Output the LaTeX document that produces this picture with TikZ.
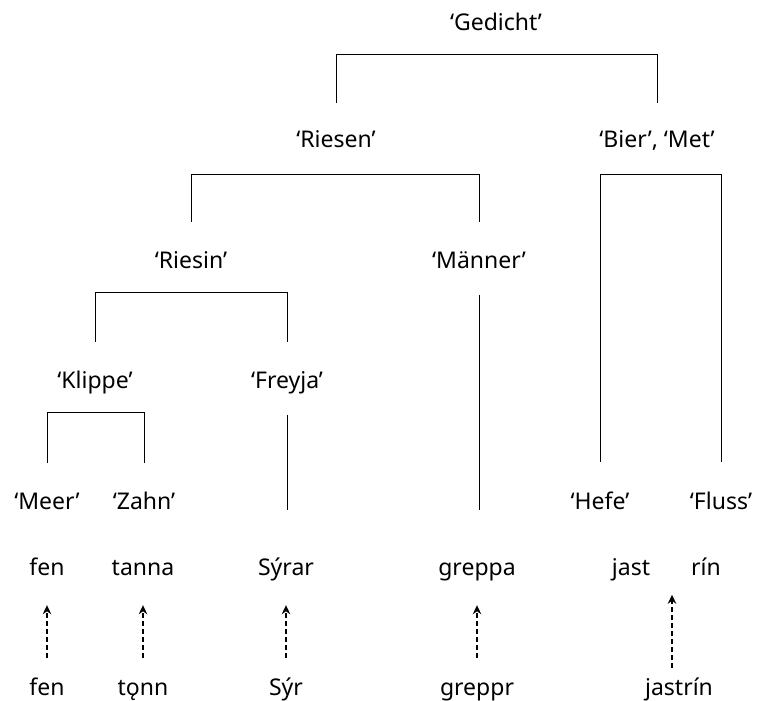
\documentclass[tikz,border=0pt]{standalone}
\usepackage{fontspec}
\setmainfont{Noto Sans}
\usepackage{tikz}
\usetikzlibrary{arrows.meta,positioning}

\tikzset{
  word/.style={inner sep=0pt, text height=16pt, text depth=4.5pt,
    font=\fontsize{23}{27}\selectfont},
  tree/.style={line width=1pt},
  derive/.style={line width=1.2pt, dash pattern=on 5pt off 3pt,
    -{Stealth[length=9pt,width=8.5pt]}, shorten <=21.75pt, shorten >=24.75pt}
}

\begin{document}
\begin{tikzpicture}[x=1pt,y=-1pt]
      \useasboundingbox (0,0) rectangle (763,701);
      % meanings
      \node[word] (gedicht) at (496,25) {‘Gedicht’};
      \node[word] (riesen) at (336,142) {‘Riesen’};
      \node[word] (biermet) at (657,142) {‘Bier’, ‘Met’};
      \node[word] (riesin) at (191,263) {‘Riesin’};
      \node[word] (maenner) at (479,263) {‘Männer’};
      \node[word] (klippe) at (95,383) {‘Klippe’};
      \node[word] (freyja) at (287,383) {‘Freyja’};
      \node[word] (meer) at (47,504) {‘Meer’};
      \node[word] (zahn) at (144,504) {‘Zahn’};
      \node[word] (hefe) at (600,504) {‘Hefe’};
      \node[word] (fluss) at (721,504) {‘Fluss’};
      % forms
      \node[word] (fenA) at (47,570) {fen};
      \node[word] (tanna) at (143,570) {tanna};
      \node[word] (syrar) at (286,570) {Sýrar};
      \node[word] (greppa) at (477,570) {greppa};
      \node[word] (jast) at (631,570) {jast};
      \node[word] (rin) at (706,570) {rín};
      \node[word] (fenB) at (47,690) {fen};
      \node[word] (tonn) at (143,690) {tǫnn};
      \node[word] (syr) at (286,690) {Sýr};
      \node[word] (greppr) at (477,690) {greppr};
      \node[word] (jastrin) at (679,690) {jastrín};
      \coordinate (jr) at (672,570);
      \coordinate (maennerEnd) at (479,510);
      \coordinate (freyjaEnd) at (287,510);
      % brackets
      \draw[tree] ([yshift=28.75pt]riesen.north) -- ++(0,-48) -| ([yshift=28.75pt]biermet.north);
      \draw[tree] ([yshift=30.75pt]riesin.north) -- ++(0,-47) -| ([yshift=30.75pt]maenner.north);
      \draw[tree] ([yshift=31.75pt]hefe.north) -- ++(0,-287) -| ([yshift=31.75pt]fluss.north);
      \draw[tree] ([yshift=30.75pt]klippe.north) -- ++(0,-49) -| ([yshift=30.75pt]freyja.north);
      \draw[tree] ([yshift=30.75pt]meer.north) -- ++(0,-50) -| ([yshift=30.75pt]zahn.north);
      \draw[tree] ([yshift=-21.75pt]maenner.south) -- (maennerEnd);
      \draw[tree] ([yshift=-21.75pt]freyja.south) -- (freyjaEnd);
      % derivations
      \draw[derive] (fenB) -- (fenA);
      \draw[derive] (tonn) -- (tanna);
      \draw[derive] (syr) -- (syrar);
      \draw[derive] (greppr) -- (greppa);
      \draw[derive] (jastrin.center -| jr) -- (jr);
\end{tikzpicture}
\end{document}
